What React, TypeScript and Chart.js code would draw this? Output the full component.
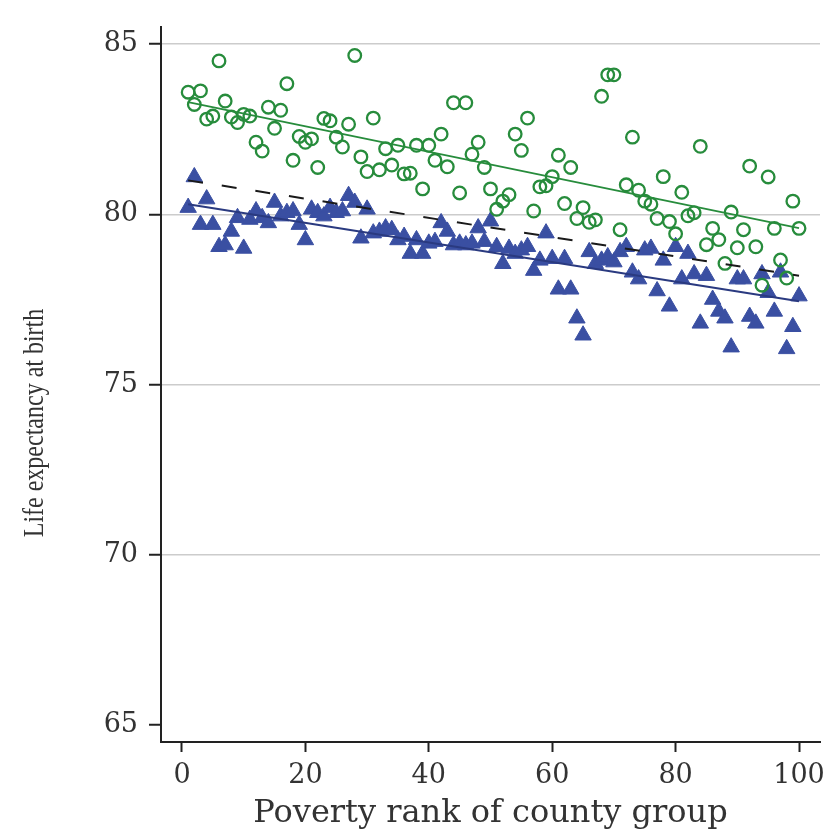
import React, { useEffect, useRef } from "react";
import { Chart, registerables } from "chart.js";

Chart.register(...registerables);

// Poverty rank of county group (percentile groups)
const ranks = [
  1, 2, 3, 4, 5, 6, 7, 8, 9, 10, 11, 12, 13, 14, 15, 16, 17, 18, 19, 20,
  21, 22, 23, 24, 25, 26, 27, 28, 29, 30, 31, 32, 33, 34, 35, 36, 37, 38, 39, 40,
  41, 42, 43, 44, 45, 46, 47, 48, 49, 50, 51, 52, 53, 54, 55, 56, 57, 58, 59, 60,
  61, 62, 63, 64, 65, 66, 67, 68, 69, 70, 71, 72, 73, 74, 75, 76, 77, 78, 79, 80,
  81, 82, 83, 84, 85, 86, 87, 88, 89, 90, 91, 92, 93, 94, 95, 96, 97, 98, 99, 100,
];

// Green open circles
const greenLife = [
  83.59, 83.23, 83.63, 82.8, 82.89, 84.51, 83.33, 82.86, 82.7, 82.94,
  82.89, 82.12, 81.86, 83.15, 82.53, 83.06, 83.84, 81.59, 82.29, 82.12,
  82.22, 81.38, 82.82, 82.75, 82.27, 81.98, 82.65, 84.67, 81.69, 81.26,
  82.83, 81.31, 81.93, 81.45, 82.03, 81.19, 81.21, 82.03, 80.75, 82.03,
  81.59, 82.36, 81.4, 83.28, 80.63, 83.28, 81.77, 82.12, 81.38, 80.75,
  80.15, 80.39, 80.58, 82.36, 81.88, 82.83, 80.1, 80.81, 80.84, 81.11,
  81.74, 80.32, 81.38, 79.88, 80.2, 79.77, 79.84, 83.47, 84.1, 84.1,
  79.55, 80.87, 82.27, 80.71, 80.39, 80.3, 79.88, 81.11, 79.79, 79.43,
  80.65, 79.96, 80.05, 82.0, 79.11, 79.59, 79.26, 78.56, 80.07, 79.02,
  79.55, 81.42, 79.05, 77.92, 81.1, 79.59, 78.66, 78.13, 80.39, 79.59,
];

// Blue filled triangles
const blueLife = [
  80.2, 81.1, 79.7, 80.45, 79.7, 79.05, 79.1, 79.5, 79.9, 79.0,
  79.85, 80.1, 79.9, 79.75, 80.35, 79.95, 80.05, 80.1, 79.7, 79.25,
  80.15, 80.05, 79.95, 80.2, 80.05, 80.1, 80.55, 80.35, 79.3, 80.15,
  79.45, 79.5, 79.6, 79.55, 79.25, 79.35, 78.85, 79.25, 78.85, 79.15,
  79.2, 79.75, 79.5, 79.1, 79.15, 79.1, 79.15, 79.6, 79.2, 79.8,
  79.05, 78.55, 79.0, 78.85, 78.95, 79.05, 78.35, 78.65, 79.45, 78.7,
  77.8, 78.7, 77.8, 76.95, 76.45, 78.9, 78.55, 78.65, 78.75, 78.6,
  78.9, 79.05, 78.3, 78.1, 78.95, 79.0, 77.75, 78.65, 77.3, 79.05,
  78.1, 78.85, 78.25, 76.8, 78.2, 77.5, 77.15, 76.95, 76.1, 78.1,
  78.1, 77.0, 76.8, 78.25, 77.7, 77.15, 78.3, 76.05, 76.7, 77.6,
];

// Fitted trend lines (end values)
const trendRanks = [1, 100];
const greenTrend = [83.3, 79.6];
const blueTrend = [80.3, 77.45];
const dashedTrend = [81.0, 78.2];

const xTicks = [0, 20, 40, 60, 80, 100];
const yTicks = [65, 70, 75, 80, 85];

const xTitle = "Poverty rank of county group";
const yTitle = "Life expectancy at birth";

const TEXT = "#333333";
const AXIS = "#222222";
const GREEN = "#278c3c";
const BLUE = "#3a4fa2";
const BLUE_LINE = "#2a3a80";

const pts = (xs: number[], ys: number[]) => xs.map((x, i) => ({ x, y: ys[i] }));

const titlePlugin = {
  id: "axisTitles",
  afterDraw(chart: any) {
    const ctx = chart.ctx;
    const area = chart.chartArea;
    ctx.save();
    ctx.fillStyle = TEXT;
    ctx.font = "32px 'DejaVu Serif'";
    ctx.textAlign = "center";
    ctx.textBaseline = "alphabetic";
    ctx.fillText(xTitle, (area.left + area.right) / 2, 822);
    ctx.restore();
    ctx.save();
    ctx.fillStyle = TEXT;
    ctx.translate(43, 423);
    ctx.rotate(-Math.PI / 2);
    ctx.scale(1, 1.25);
    ctx.font = "24px 'Liberation Serif'";
    ctx.textAlign = "center";
    ctx.textBaseline = "alphabetic";
    ctx.fillText(yTitle, 0, 0);
    ctx.restore();
  },
};

export default function App() {
  const ref = useRef<HTMLCanvasElement | null>(null);
  useEffect(() => {
    if (!ref.current) return;
    const chart = new Chart(ref.current, {
      type: "scatter",
      data: {
        datasets: [
          {
            label: "green trend",
            data: pts(trendRanks, greenTrend),
            showLine: true,
            borderColor: GREEN,
            borderWidth: 1.8,
            pointRadius: 0,
            order: 0,
          },
          {
            label: "blue trend",
            data: pts(trendRanks, blueTrend),
            showLine: true,
            borderColor: BLUE_LINE,
            borderWidth: 2,
            pointRadius: 0,
            order: 0,
          },
          {
            label: "dashed trend",
            data: pts(trendRanks, dashedTrend),
            showLine: true,
            borderColor: "#1a1a1a",
            borderWidth: 2,
            borderDash: [15, 19],
            pointRadius: 0,
            order: 0,
          },
          {
            label: "green",
            data: pts(ranks, greenLife),
            pointStyle: "circle",
            pointRadius: 6.3,
            borderWidth: 2.3,
            borderColor: GREEN,
            backgroundColor: "rgba(0,0,0,0)",
            order: 1,
          },
          {
            label: "blue",
            data: pts(ranks, blueLife),
            pointStyle: "triangle",
            pointRadius: 9.5,
            borderWidth: 1,
            borderColor: BLUE,
            backgroundColor: BLUE,
            order: 2,
          },
        ],
      },
      options: {
        animation: false,
        responsive: true,
        maintainAspectRatio: false,
        layout: { padding: { top: 15, right: 15, left: 0, bottom: 0 } },
        plugins: { legend: { display: false }, tooltip: { enabled: false } },
        scales: {
          x: {
            type: "linear",
            min: -3.4,
            max: 103.4,
            afterBuildTicks: (s: any) => {
              s.ticks = xTicks.map((v) => ({ value: v }));
            },
            afterFit: (s: any) => {
              s.height = 92;
            },
            border: { display: true, color: AXIS, width: 2 },
            grid: {
              drawOnChartArea: false,
              drawTicks: true,
              tickLength: 10,
              tickColor: AXIS,
              tickWidth: 2,
            },
            ticks: {
              color: TEXT,
              padding: 8,
              font: { family: "'DejaVu Serif'", size: 27 },
              maxRotation: 0,
            },
          },
          y: {
            type: "linear",
            min: 64.5,
            max: 85.5,
            afterBuildTicks: (s: any) => {
              s.ticks = yTicks.map((v) => ({ value: v }));
            },
            afterFit: (s: any) => {
              s.width = 161;
            },
            border: { display: true, color: AXIS, width: 2 },
            grid: {
              drawOnChartArea: true,
              color: (c: any) => (c.tick && c.tick.value === 65 ? "rgba(0,0,0,0)" : "#cccccc"),
              lineWidth: 1.5,
              drawTicks: true,
              tickLength: 12,
              tickColor: AXIS,
              tickWidth: 2,
            },
            ticks: {
              color: TEXT,
              padding: 11,
              font: { family: "'DejaVu Serif'", size: 27 },
            },
          },
        },
      },
      plugins: [titlePlugin],
    } as any);
    return () => chart.destroy();
  }, []);
  return (
    <div style={{ position: "fixed", left: 0, top: 0, width: 835, height: 834, background: "#fff" }}>
      <canvas ref={ref} />
    </div>
  );
}
